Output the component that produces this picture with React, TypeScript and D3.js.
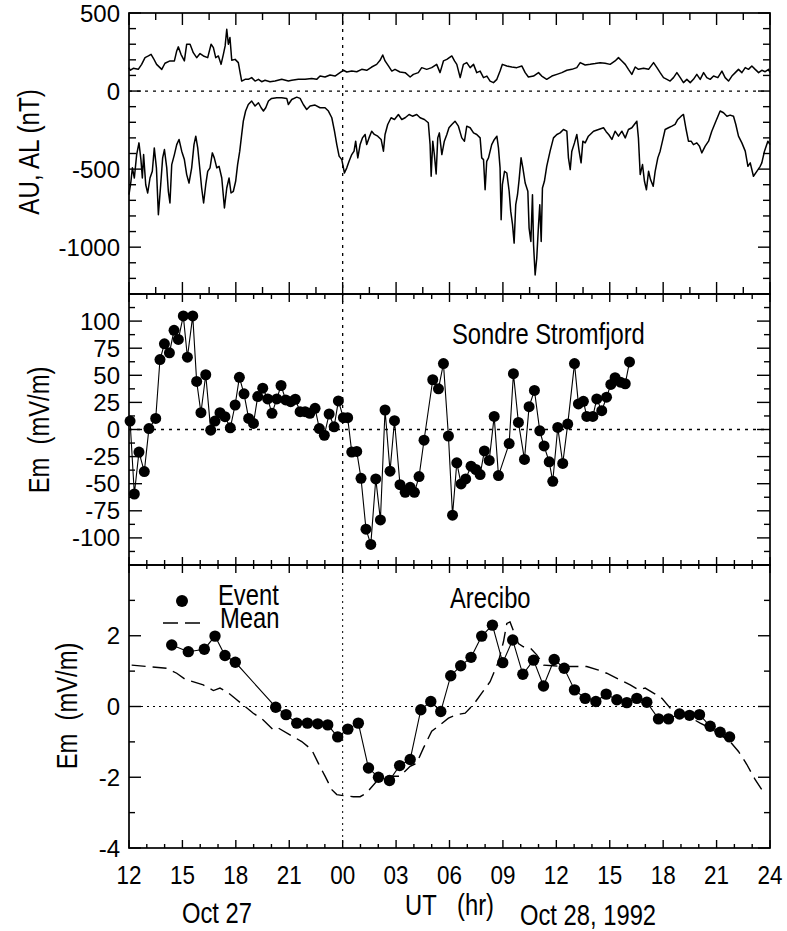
import React from 'react';
import * as d3 from 'd3';

// ---------- DATA ----------
// AU index (nT), [UT hour from Oct 27 00h, value]
const AU_DATA: [number, number][] = [
  [12.0, 150], [12.06, 133], [12.24, 146], [12.52, 139], [12.71, 171], [12.9, 214], [13.09, 225], [13.24, 235],
  [13.37, 210], [13.55, 171], [13.84, 139], [14.02, 178], [14.3, 193], [14.55, 193], [14.68, 257], [14.77, 283],
  [14.92, 235], [15.11, 193], [15.24, 300], [15.43, 300], [15.61, 246], [15.8, 214], [15.99, 240], [16.18, 225],
  [16.42, 214], [16.61, 300], [16.74, 278], [16.87, 214], [17.02, 225], [17.17, 171], [17.3, 235], [17.4, 289],
  [17.49, 396], [17.58, 300], [17.67, 343], [17.77, 197], [17.96, 203], [18.14, 182], [18.24, 118], [18.33, 64],
  [18.52, 75], [18.7, 75], [18.89, 86], [19.08, 64], [19.27, 75], [19.45, 60], [19.64, 69], [19.92, 60],
  [20.2, 64], [20.58, 75], [20.95, 64], [21.14, 69], [21.51, 75], [21.89, 75], [22.26, 81], [22.54, 75],
  [22.73, 96], [23.01, 90], [23.29, 103], [23.57, 96], [23.85, 118], [24.04, 133], [24.23, 122], [24.51, 128],
  [24.79, 124], [25.07, 139], [25.35, 133], [25.63, 154], [25.91, 171], [26.1, 197], [26.25, 231], [26.38, 193],
  [26.57, 161], [26.76, 128], [26.94, 139], [27.22, 122], [27.51, 118], [27.79, 90], [27.97, 107], [28.25, 118],
  [28.44, 150], [28.72, 139], [29.0, 150], [29.28, 171], [29.47, 118], [29.66, 193], [29.85, 203], [30.13, 225],
  [30.28, 193], [30.41, 171], [30.6, 86], [30.78, 171], [30.97, 182], [31.16, 150], [31.35, 171], [31.53, 118],
  [31.72, 128], [31.91, 86], [32.1, 96], [32.28, 64], [32.47, 54], [32.66, 75], [32.84, 128], [32.97, 171],
  [33.22, 161], [33.5, 154], [33.78, 150], [34.06, 161], [34.25, 118], [34.43, 90], [34.72, 96], [35.0, 118],
  [35.18, 96], [35.46, 75], [35.75, 96], [36.03, 107], [36.31, 118], [36.59, 133], [36.87, 139], [37.15, 150],
  [37.34, 182], [37.62, 167], [37.9, 171], [38.18, 176], [38.46, 182], [38.74, 178], [39.02, 171], [39.3, 193],
  [39.49, 214], [39.68, 193], [39.87, 171], [40.05, 139], [40.24, 107], [40.43, 154], [40.61, 139], [40.9, 146],
  [41.18, 139], [41.46, 182], [41.65, 150], [41.83, 118], [42.02, 86], [42.21, 75], [42.39, 64], [42.58, 86],
  [42.77, 118], [42.96, 86], [43.14, 54], [43.33, 75], [43.52, 54], [43.7, 75], [43.89, 107], [44.08, 75],
  [44.27, 118], [44.45, 86], [44.64, 75], [44.83, 96], [45.07, 86], [45.3, 128], [45.48, 86], [45.67, 64],
  [45.86, 96], [46.05, 118], [46.23, 139], [46.42, 118], [46.61, 150], [46.79, 139], [46.98, 161], [47.17, 139],
  [47.36, 118], [47.54, 133], [47.73, 124], [47.92, 139], [48.0, 118],
];

// AL index (nT)
const AL_DATA: [number, number][] = [
  [12.0, -664], [12.11, -578], [12.19, -492], [12.3, -557], [12.43, -407], [12.56, -332], [12.67, -439], [12.75, -557],
  [12.82, -407], [12.94, -600], [13.05, -653], [13.18, -557], [13.31, -514], [13.42, -364], [13.54, -492], [13.65, -792],
  [13.78, -600], [13.89, -428], [13.99, -375], [14.12, -492], [14.21, -642], [14.3, -717], [14.4, -471], [14.55, -407],
  [14.68, -343], [14.81, -310], [14.96, -385], [15.11, -439], [15.24, -535], [15.37, -589], [15.52, -492], [15.65, -343],
  [15.75, -289], [15.86, -364], [15.99, -514], [16.08, -621], [16.19, -717], [16.31, -600], [16.42, -514], [16.55, -492],
  [16.68, -396], [16.79, -428], [16.93, -492], [17.06, -482], [17.21, -557], [17.36, -749], [17.49, -621], [17.62, -557],
  [17.73, -653], [17.86, -642], [17.99, -578], [18.1, -471], [18.22, -385], [18.33, -278], [18.42, -193], [18.55, -128],
  [18.7, -86], [18.89, -64], [19.08, -96], [19.27, -75], [19.42, -107], [19.55, -128], [19.68, -107], [19.83, -64],
  [20.01, -47], [20.3, -43], [20.58, -43], [20.86, -47], [20.95, -86], [21.14, -54], [21.42, -39], [21.61, -47],
  [21.79, -86], [21.98, -118], [22.17, -96], [22.45, -90], [22.73, -107], [23.01, -107], [23.2, -128], [23.39, -171],
  [23.54, -257], [23.67, -343], [23.8, -417], [23.95, -439], [24.1, -525], [24.23, -492], [24.36, -450], [24.51, -407],
  [24.64, -385], [24.73, -321], [24.85, -428], [24.98, -343], [25.11, -300], [25.26, -278], [25.35, -343], [25.48, -300],
  [25.63, -257], [25.78, -278], [25.97, -289], [26.16, -310], [26.29, -385], [26.38, -278], [26.53, -214], [26.72, -171],
  [26.91, -182], [27.13, -150], [27.32, -182], [27.51, -171], [27.73, -150], [27.92, -161], [28.16, -150], [28.35, -171],
  [28.59, -182], [28.81, -203], [28.91, -343], [28.97, -546], [29.06, -321], [29.15, -407], [29.25, -531], [29.34, -300],
  [29.43, -268], [29.57, -407], [29.71, -321], [29.85, -278], [29.97, -235], [30.13, -214], [30.31, -193], [30.5, -225],
  [30.69, -300], [30.84, -321], [30.97, -225], [31.16, -235], [31.35, -268], [31.53, -278], [31.72, -300], [31.81, -428],
  [31.91, -439], [32.0, -632], [32.09, -450], [32.19, -428], [32.37, -343], [32.52, -310], [32.66, -289], [32.75, -364],
  [32.84, -492], [32.9, -824], [32.97, -600], [33.09, -514], [33.22, -525], [33.35, -642], [33.44, -771], [33.54, -856],
  [33.63, -974], [33.72, -728], [33.82, -664], [33.91, -567], [34.02, -428], [34.12, -492], [34.25, -589], [34.4, -642],
  [34.47, -878], [34.57, -963], [34.66, -664], [34.72, -985], [34.81, -1178], [34.9, -1071], [35.0, -856], [35.07, -728],
  [35.15, -963], [35.22, -621], [35.33, -578], [35.46, -482], [35.65, -385], [35.84, -300], [36.03, -278], [36.21, -268],
  [36.4, -246], [36.59, -257], [36.68, -428], [36.78, -503], [36.87, -385], [37.02, -332], [37.15, -278], [37.28, -385],
  [37.39, -460], [37.49, -321], [37.62, -332], [37.8, -289], [38.09, -257], [38.37, -246], [38.65, -235], [38.8, -260],
  [38.95, -280], [39.12, -310], [39.3, -257], [39.49, -289], [39.68, -257], [39.87, -300], [40.05, -246], [40.24, -235],
  [40.52, -193], [40.61, -300], [40.71, -535], [40.84, -471], [40.95, -578], [41.06, -632], [41.18, -514], [41.29, -567],
  [41.44, -610], [41.55, -514], [41.7, -428], [41.83, -385], [41.96, -321], [42.11, -246], [42.3, -235], [42.49, -225],
  [42.67, -214], [42.82, -182], [43.01, -161], [43.14, -150], [43.27, -235], [43.42, -321], [43.57, -321], [43.7, -343],
  [43.89, -332], [44.04, -353], [44.17, -396], [44.36, -353], [44.55, -321], [44.73, -257], [44.96, -193], [45.2, -128],
  [45.39, -139], [45.58, -161], [45.76, -154], [45.95, -161], [46.08, -214], [46.23, -289], [46.42, -332], [46.61, -385],
  [46.76, -482], [46.89, -460], [47.07, -546], [47.26, -514], [47.45, -482], [47.54, -460], [47.69, -385], [47.88, -321],
  [48.0, -343],
];

// Sondre Stromfjord Em (mV/m)
const SONDRE_DATA: [number, number][] = [
  [12.06, 7.8], [12.3, -59.5], [12.56, -20.8], [12.86, -38.8], [13.12, 0.9], [13.5, 10.2], [13.74, 64.5], [13.99, 79],
  [14.27, 70.7], [14.53, 91.5], [14.77, 83.1], [15.05, 104.8], [15.28, 66.7], [15.58, 104.8], [15.8, 44.3], [16.04, 15.5],
  [16.31, 50.5], [16.59, -0.6], [16.83, 7.8], [17.11, 15.5], [17.39, 11.8], [17.69, 1.6], [17.96, 22.6], [18.2, 48.1],
  [18.46, 32.9], [18.72, 10.2], [18.99, 5.6], [19.23, 30.4], [19.51, 38.1], [19.79, 28.2], [20.03, 14.9], [20.3, 28.2],
  [20.54, 40.6], [20.8, 27.3], [21.08, 25.7], [21.34, 27.9], [21.61, 16.4], [21.89, 16.4], [22.16, 14.9], [22.45, 19.5],
  [22.69, 0.9], [22.97, -5.3], [23.24, 14.3], [23.52, 2.5], [23.76, 26.4], [24.04, 10.9], [24.28, 10.9], [24.51, -20.8],
  [24.79, -20.2], [25.03, -45], [25.31, -92], [25.58, -106], [25.86, -45.6], [26.12, -83.4], [26.38, 18], [26.66, -38.4],
  [26.91, 8.1], [27.22, -50.9], [27.51, -58], [27.79, -53.3], [28.03, -58], [28.29, -43.4], [28.57, -9.9], [29.06, 45.9],
  [29.38, 37.5], [29.66, 60.8], [29.94, -6], [30.17, -79], [30.41, -30.7], [30.65, -50.2], [30.91, -45.6], [31.21, -33.8],
  [31.48, -36.9], [31.72, -41.6], [31.96, -19.8], [32.23, -28.5], [32.51, 12.1], [32.75, -42.5], [33.35, -13], [33.59, 51.5],
  [33.87, 6.5], [34.21, -27.6], [34.47, 21.1], [34.77, 36], [35.07, -1.2], [35.31, -15.2], [35.6, -29.8], [35.8, -47.8],
  [36.08, 1.9], [36.36, -31.3], [36.64, 5], [37.02, 60.8], [37.24, 23.6], [37.52, 26], [37.71, 12.1], [38.05, 12.1],
  [38.27, 28.2], [38.55, 17.4], [38.82, 29.8], [39.06, 41.6], [39.3, 47.8], [39.6, 43.7], [39.87, 42.2], [40.11, 62.3],
];

// Arecibo Em (mV/m), event
const ARECIBO_EVENT: [number, number][] = [
  [14.4, 1.74], [15.33, 1.55], [16.23, 1.62], [16.83, 1.99], [17.39, 1.44], [17.97, 1.25], [20.24, -0.02], [20.82, -0.23],
  [21.42, -0.47], [22.02, -0.47], [22.6, -0.49], [23.16, -0.52], [23.72, -0.86], [24.29, -0.64], [24.88, -0.47], [25.45, -1.74],
  [26.01, -2.0], [26.63, -2.09], [27.2, -1.67], [27.79, -1.5], [28.39, -0.09], [28.95, 0.14], [29.51, -0.14], [30.07, 0.87],
  [30.63, 1.15], [31.21, 1.39], [31.81, 1.99], [32.41, 2.3], [32.99, 1.24], [33.55, 1.88], [34.12, 0.91], [34.72, 1.31],
  [35.28, 0.58], [35.88, 1.33], [36.44, 1.08], [37.02, 0.47], [37.62, 0.23], [38.22, 0.14], [38.8, 0.35], [39.4, 0.19],
  [39.96, 0.11], [40.52, 0.23], [41.08, 0.12], [41.74, -0.35], [42.3, -0.35], [42.92, -0.21], [43.48, -0.25], [44.04, -0.23],
  [44.64, -0.56], [45.2, -0.73], [45.73, -0.86],
];

// Arecibo Em (mV/m), mean
const ARECIBO_MEAN: [number, number][] = [
  [12.15, 1.17], [14.12, 1.08], [14.68, 0.94], [15.15, 0.77], [16.17, 0.61], [16.74, 0.45], [17.11, 0.52], [17.49, 0.42],
  [18.05, 0.19], [18.52, 0.0], [18.98, -0.19], [19.54, -0.38], [20.11, -0.66], [20.39, -0.61], [21.04, -0.8], [21.7, -0.99],
  [22.26, -1.22], [22.63, -1.6], [23.01, -1.97], [23.39, -2.35], [23.67, -2.49], [24.04, -2.52], [24.6, -2.55], [24.98, -2.55],
  [25.35, -2.44], [25.92, -2.11], [26.57, -1.97], [27.22, -1.97], [27.79, -1.69], [28.16, -1.6], [28.54, -1.17], [29.0, -0.7],
  [29.47, -0.52], [29.94, -0.33], [30.41, -0.23], [30.88, -0.19], [31.34, 0.05], [31.81, 0.38], [32.28, 0.7], [32.75, 1.27],
  [33.03, 1.83], [33.22, 2.35], [33.4, 2.39], [33.87, 1.78], [34.15, 1.69], [34.53, 1.66], [34.9, 1.46], [35.28, 1.17],
  [35.84, 1.15], [36.4, 1.13], [36.96, 1.13], [37.71, 1.13], [38.37, 1.03], [38.83, 0.94], [39.58, 0.75], [40.15, 0.61],
  [40.61, 0.47], [40.99, 0.52], [41.46, 0.38], [41.93, 0.23], [42.4, -0.05], [42.95, -0.19], [43.52, -0.31], [44.08, -0.47],
  [44.64, -0.61], [45.2, -0.8], [45.76, -0.99], [46.23, -1.27], [46.7, -1.64], [47.17, -2.07], [47.6, -2.4],
];

const X_TICK_HOURS = [12, 15, 18, 21, 24, 27, 30, 33, 36, 39, 42, 45, 48];
const X_TICK_LABELS = ['12', '15', '18', '21', '00', '03', '06', '09', '12', '15', '18', '21', '24'];
const AUAL_TICKS = [500, 0, -500, -1000];
const SONDRE_TICKS = [100, 75, 50, 25, 0, -25, -50, -75, -100];
const ARECIBO_TICKS = [2, 0, -2, -4];

// ---------- LAYOUT ----------
const X0 = 129, X1 = 770;
const P1T = 13, P1B = 294, P2B = 565, P3B = 848;
const FONT = "'Liberation Sans', Arial, Helvetica, sans-serif";

type TProps = { x: number; y: number; size: number; sx?: number; anchor?: string; rotate?: number; children: React.ReactNode };
function T({ x, y, size, sx = 1, anchor = 'start', rotate = 0, children }: TProps) {
  return (
    <text
      transform={`translate(${x},${y}) rotate(${rotate}) scale(${sx},1)`}
      fontSize={size}
      textAnchor={anchor as any}
      fontFamily={FONT}
      fill="#000"
      style={{ whiteSpace: 'pre' }}
    >
      {children}
    </text>
  );
}

export default function App() {
  const x = d3.scaleLinear().domain([12, 48]).range([X0, X1]);
  const y1 = d3.scaleLinear().domain([-1300, 500]).range([P1B, P1T]);
  const y2 = d3.scaleLinear().domain([-125, 125]).range([P2B, P1B]);
  const y3 = d3.scaleLinear().domain([-4, 4]).range([P3B, P2B]);

  const line1 = d3.line<[number, number]>().x(d => x(d[0])).y(d => y1(d[1]));
  const line2 = d3.line<[number, number]>().x(d => x(d[0])).y(d => y2(d[1]));
  const line3 = d3.line<[number, number]>().x(d => x(d[0])).y(d => y3(d[1]));

  const ticks: React.ReactNode[] = [];
  const addY = (vals: number[], ys: (v: number) => number, isMajor: (v: number) => boolean, maj: number, min: number, key: string) => {
    vals.forEach((v, i) => {
      const yy = ys(v);
      const L = isMajor(v) ? maj : min;
      ticks.push(<line key={`${key}l${i}`} x1={X0} x2={X0 + L} y1={yy} y2={yy} />);
      ticks.push(<line key={`${key}r${i}`} x1={X1} x2={X1 - L} y1={yy} y2={yy} />);
    });
  };
  const addX = (hours: number[], top: number, bot: number, maj: number, min: number, key: string) => {
    hours.forEach((h, i) => {
      const xx = x(h);
      const L = (h - 12) % 3 === 0 ? maj : min;
      ticks.push(<line key={`${key}t${i}`} x1={xx} x2={xx} y1={top} y2={top + L} />);
      ticks.push(<line key={`${key}b${i}`} x1={xx} x2={xx} y1={bot} y2={bot - L} />);
    });
  };
  addY(d3.range(-1300, 501, 100), y1, v => v % 500 === 0, 12, 7, 'p1');
  addX(d3.range(12, 48.01, 1.5), P1T, P1B, 12, 7, 'p1x');
  addY(d3.range(-125, 125.01, 12.5), y2, v => Math.abs(v % 25) < 1e-6, 13, 6, 'p2');
  addX(d3.range(12, 48.01, 1), P1B, P2B, 8, 5, 'p2x');
  addY(d3.range(-4, 4.01, 1), y3, v => Math.abs(v % 2) < 1e-6, 12, 6, 'p3');
  addX(d3.range(12, 48.01, 1), P2B, P3B, 8, 4, 'p3x');

  return (
    <svg width={787} height={931} style={{ display: 'block', position: 'absolute', left: 0, top: 0 }}>
      <rect x={0} y={0} width={787} height={931} fill="#fff" />
      {/* zero lines */}
      <line x1={X0} x2={X1} y1={y1(0)} y2={y1(0)} stroke="#000" strokeWidth={1.3} strokeDasharray="3,5" />
      <line x1={X0} x2={X1} y1={y2(0)} y2={y2(0)} stroke="#000" strokeWidth={1.3} strokeDasharray="3,5" />
      <line x1={X0} x2={X1} y1={y3(0)} y2={y3(0)} stroke="#000" strokeWidth={1} strokeDasharray="2,4" />
      {/* 00 UT vertical line */}
      <line x1={x(24)} x2={x(24)} y1={P1T} y2={P2B} stroke="#000" strokeWidth={1.3} strokeDasharray="3,5" />
      <line x1={x(24)} x2={x(24)} y1={P2B} y2={P3B} stroke="#000" strokeWidth={1} strokeDasharray="2,4" />

      {/* Panel 1 */}
      <path d={line1(AU_DATA) || ''} fill="none" stroke="#000" strokeWidth={1.5} strokeLinejoin="round" />
      <path d={line1(AL_DATA) || ''} fill="none" stroke="#000" strokeWidth={1.5} strokeLinejoin="round" />

      {/* Panel 2 */}
      <path d={line2(SONDRE_DATA) || ''} fill="none" stroke="#000" strokeWidth={1.1} />
      {SONDRE_DATA.map((d, i) => (
        <circle key={`s${i}`} cx={x(d[0])} cy={y2(d[1])} r={5.5} fill="#000" />
      ))}

      {/* Panel 3 */}
      <path d={line3(ARECIBO_MEAN) || ''} fill="none" stroke="#000" strokeWidth={1.4} strokeDasharray="14,7" />
      <path d={line3(ARECIBO_EVENT) || ''} fill="none" stroke="#000" strokeWidth={1.1} />
      {ARECIBO_EVENT.map((d, i) => (
        <circle key={`a${i}`} cx={x(d[0])} cy={y3(d[1])} r={5.7} fill="#000" />
      ))}

      {/* frames and ticks */}
      <g stroke="#000" strokeWidth={1.4}>{ticks}</g>
      <rect x={X0} y={P1T} width={X1 - X0} height={P1B - P1T} fill="none" stroke="#000" strokeWidth={1.7} />
      <rect x={X0} y={P1B} width={X1 - X0} height={P2B - P1B} fill="none" stroke="#000" strokeWidth={1.7} />
      <rect x={X0} y={P2B} width={X1 - X0} height={P3B - P2B} fill="none" stroke="#000" strokeWidth={1.7} />

      {/* y tick labels */}
      {AUAL_TICKS.map(v => (
        <T key={`l1${v}`} x={120} y={y1(v) + 8.5} size={24} anchor="end">{String(v)}</T>
      ))}
      {SONDRE_TICKS.map(v => (
        <T key={`l2${v}`} x={120} y={y2(v) + 8.5} size={24} anchor="end">{String(v)}</T>
      ))}
      {ARECIBO_TICKS.map(v => (
        <T key={`l3${v}`} x={120} y={y3(v) + 8.5} size={24} anchor="end">{String(v)}</T>
      ))}

      {/* x tick labels */}
      {X_TICK_HOURS.map((h, i) => (
        <T key={`xl${i}`} x={x(h)} y={884} size={25.5} sx={0.88} anchor="middle">{X_TICK_LABELS[i]}</T>
      ))}

      {/* axis titles */}
      <T x={39} y={152} size={29.5} sx={0.82} anchor="middle" rotate={-90}>AU, AL (nT)</T>
      <T x={49} y={430} size={29} sx={0.82} anchor="middle" rotate={-90}>{'Em  (mV/m)'}</T>
      <T x={77} y={706} size={29} sx={0.82} anchor="middle" rotate={-90}>{'Em  (mV/m)'}</T>

      {/* annotations */}
      <T x={452} y={344} size={29} sx={0.82}>Sondre Stromfjord</T>
      <T x={450} y={608} size={29} sx={0.82}>Arecibo</T>
      <circle cx={182} cy={601} r={6} fill="#000" />
      <T x={218} y={605} size={29} sx={0.82}>Event</T>
      <line x1={163} x2={200} y1={623} y2={623} stroke="#000" strokeWidth={1.4} strokeDasharray="15,7" />
      <T x={220} y={628} size={29} sx={0.82}>Mean</T>

      {/* bottom labels */}
      <T x={182} y={923} size={29} sx={0.82}>Oct 27</T>
      <T x={405} y={915} size={29} sx={0.82}>UT</T>
      <T x={457} y={915} size={29} sx={0.82}>(hr)</T>
      <T x={520} y={925} size={29} sx={0.82}>Oct 28, 1992</T>
    </svg>
  );
}
